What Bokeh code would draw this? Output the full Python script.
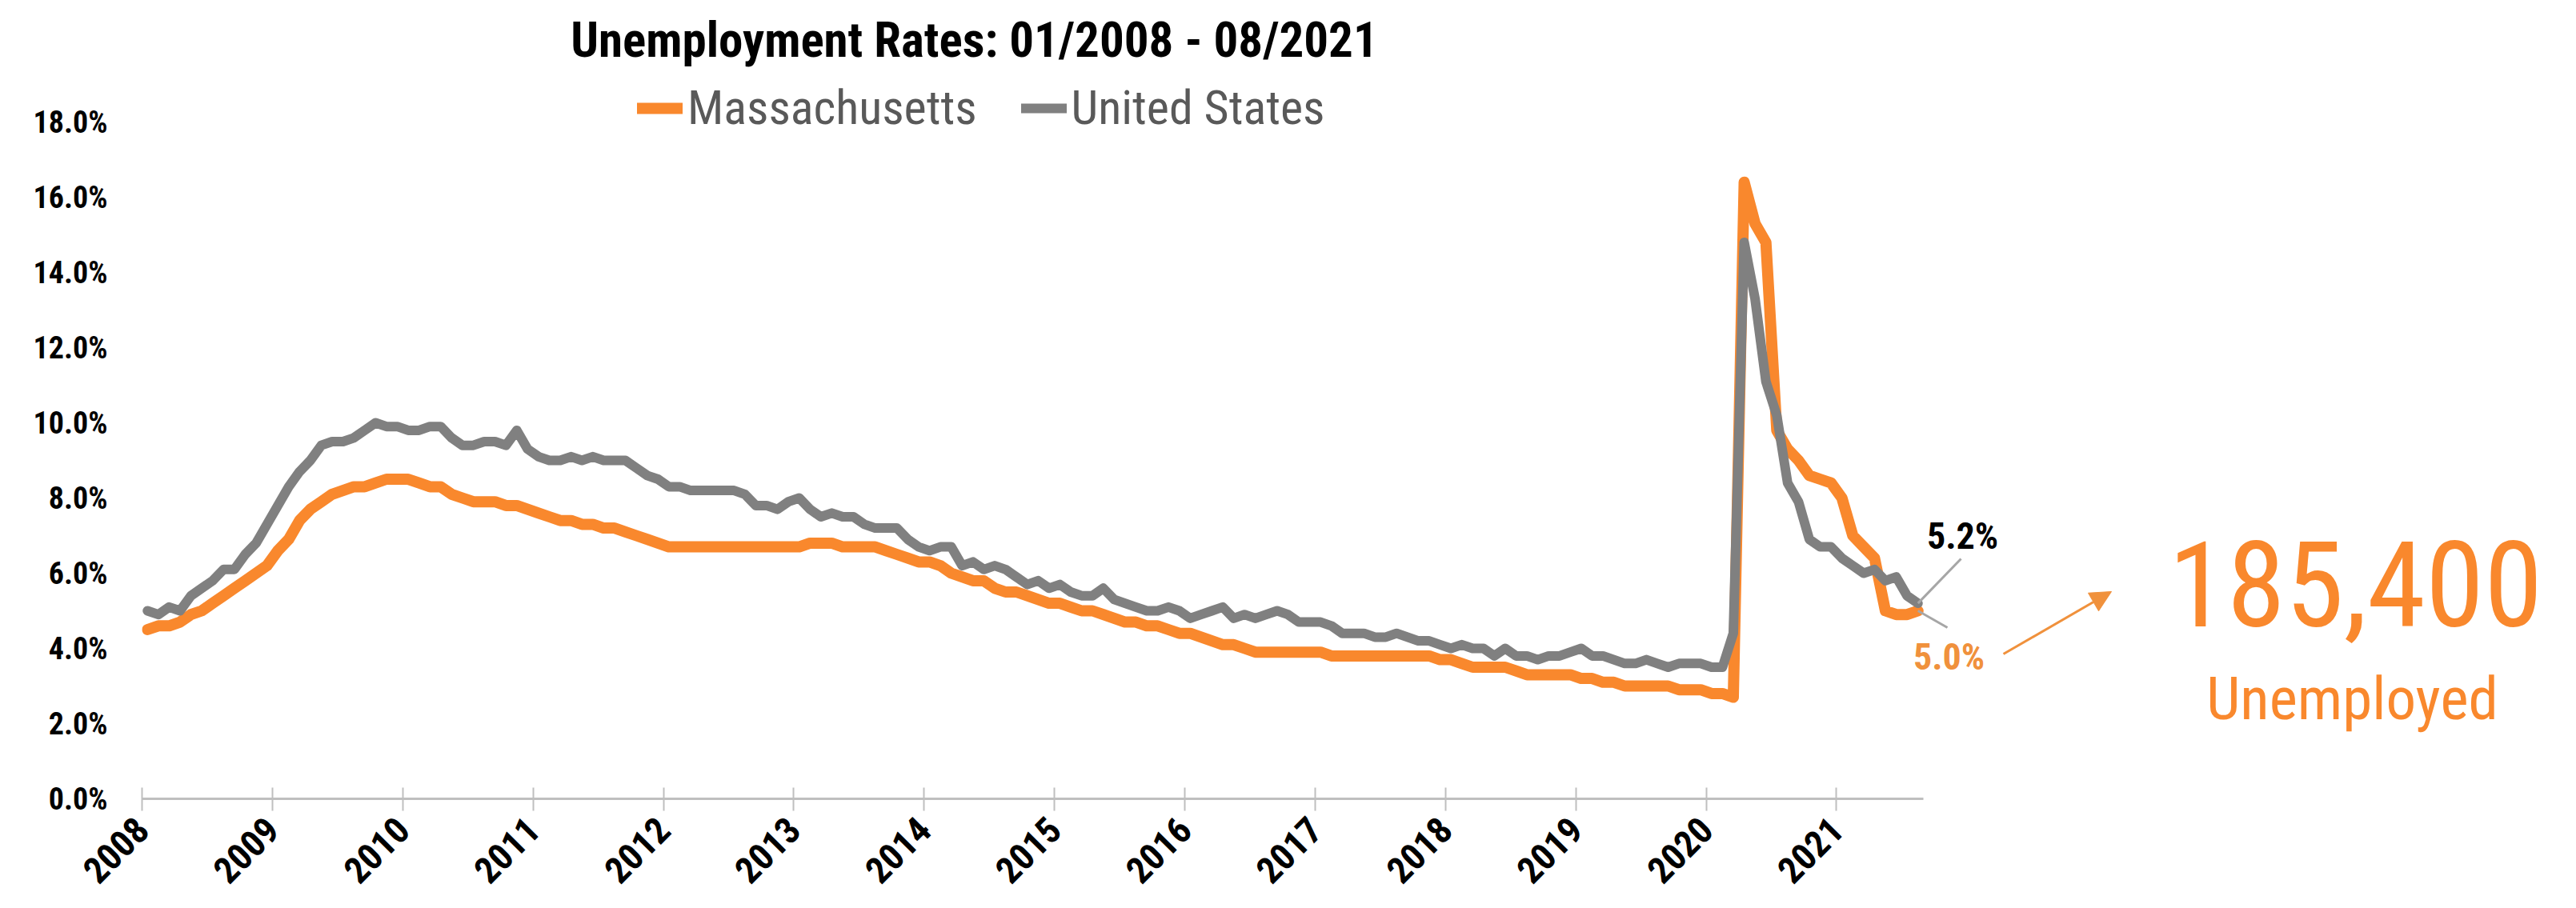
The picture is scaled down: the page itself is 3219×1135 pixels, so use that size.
import math
from bokeh.plotting import figure
from bokeh.models import (FixedTicker, PrintfTickFormatter, Legend, LegendItem,
                          Arrow, NormalHead, Range1d)
from bokeh.core.properties import value
from bokeh.embed import file_html
from bokeh.resources import INLINE

# ---------------- data ----------------
start_year = 2008
tick_years = list(range(2008, 2022))
tick_labels = [str(y) for y in tick_years]
y_ticks = [0, 2, 4, 6, 8, 10, 12, 14, 16, 18]

series_names = ["Massachusetts", "United States"]

# Monthly unemployment rate (%), 01/2008 - 08/2021
ma_rate = [
    4.5, 4.6, 4.6, 4.7, 4.9, 5.0, 5.2, 5.4, 5.6, 5.8, 6.0, 6.2,   # 2008
    6.6, 6.9, 7.4, 7.7, 7.9, 8.1, 8.2, 8.3, 8.3, 8.4, 8.5, 8.5,   # 2009
    8.5, 8.4, 8.3, 8.3, 8.1, 8.0, 7.9, 7.9, 7.9, 7.8, 7.8, 7.7,   # 2010
    7.6, 7.5, 7.4, 7.4, 7.3, 7.3, 7.2, 7.2, 7.1, 7.0, 6.9, 6.8,   # 2011
    6.7, 6.7, 6.7, 6.7, 6.7, 6.7, 6.7, 6.7, 6.7, 6.7, 6.7, 6.7,   # 2012
    6.7, 6.8, 6.8, 6.8, 6.7, 6.7, 6.7, 6.7, 6.6, 6.5, 6.4, 6.3,   # 2013
    6.3, 6.2, 6.0, 5.9, 5.8, 5.8, 5.6, 5.5, 5.5, 5.4, 5.3, 5.2,   # 2014
    5.2, 5.1, 5.0, 5.0, 4.9, 4.8, 4.7, 4.7, 4.6, 4.6, 4.5, 4.4,   # 2015
    4.4, 4.3, 4.2, 4.1, 4.1, 4.0, 3.9, 3.9, 3.9, 3.9, 3.9, 3.9,   # 2016
    3.9, 3.8, 3.8, 3.8, 3.8, 3.8, 3.8, 3.8, 3.8, 3.8, 3.8, 3.7,   # 2017
    3.7, 3.6, 3.5, 3.5, 3.5, 3.5, 3.4, 3.3, 3.3, 3.3, 3.3, 3.3,   # 2018
    3.2, 3.2, 3.1, 3.1, 3.0, 3.0, 3.0, 3.0, 3.0, 2.9, 2.9, 2.9,   # 2019
    2.8, 2.8, 2.7, 16.4, 15.3, 14.8, 9.8, 9.3, 9.0, 8.6, 8.5, 8.4,  # 2020
    8.0, 7.0, 6.7, 6.4, 5.0, 4.9, 4.9, 5.0,                       # 2021
]
us_rate = [
    5.0, 4.9, 5.1, 5.0, 5.4, 5.6, 5.8, 6.1, 6.1, 6.5, 6.8, 7.3,   # 2008
    7.8, 8.3, 8.7, 9.0, 9.4, 9.5, 9.5, 9.6, 9.8, 10.0, 9.9, 9.9,  # 2009
    9.8, 9.8, 9.9, 9.9, 9.6, 9.4, 9.4, 9.5, 9.5, 9.4, 9.8, 9.3,   # 2010
    9.1, 9.0, 9.0, 9.1, 9.0, 9.1, 9.0, 9.0, 9.0, 8.8, 8.6, 8.5,   # 2011
    8.3, 8.3, 8.2, 8.2, 8.2, 8.2, 8.2, 8.1, 7.8, 7.8, 7.7, 7.9,   # 2012
    8.0, 7.7, 7.5, 7.6, 7.5, 7.5, 7.3, 7.2, 7.2, 7.2, 6.9, 6.7,   # 2013
    6.6, 6.7, 6.7, 6.2, 6.3, 6.1, 6.2, 6.1, 5.9, 5.7, 5.8, 5.6,   # 2014
    5.7, 5.5, 5.4, 5.4, 5.6, 5.3, 5.2, 5.1, 5.0, 5.0, 5.1, 5.0,   # 2015
    4.8, 4.9, 5.0, 5.1, 4.8, 4.9, 4.8, 4.9, 5.0, 4.9, 4.7, 4.7,   # 2016
    4.7, 4.6, 4.4, 4.4, 4.4, 4.3, 4.3, 4.4, 4.3, 4.2, 4.2, 4.1,   # 2017
    4.0, 4.1, 4.0, 4.0, 3.8, 4.0, 3.8, 3.8, 3.7, 3.8, 3.8, 3.9,   # 2018
    4.0, 3.8, 3.8, 3.7, 3.6, 3.6, 3.7, 3.6, 3.5, 3.6, 3.6, 3.6,   # 2019
    3.5, 3.5, 4.4, 14.8, 13.3, 11.1, 10.2, 8.4, 7.9, 6.9, 6.7, 6.7,  # 2020
    6.4, 6.2, 6.0, 6.1, 5.8, 5.9, 5.4, 5.2,                        # 2021
]

headline_value = "185,400"
headline_caption = "Unemployed"
title_text = "Unemployment Rates: 01/2008 - 08/2021"

# x positions: middle of each month, in fractional years
x_vals = [start_year + (i + 0.5) / 12.0 for i in range(len(ma_rate))]
axis_end = 2021 + 8 / 12.0

# ---------------- layout ----------------
ORANGE = "#F9882D"
GRAY = "#808080"
LABEL_ORANGE = "#F0913C"
FONT = "Roboto Condensed"

left_b = 177
frame_w = 3200 - left_b
frame_h = 998
ppy = (2403 - left_b) / (axis_end - start_year)     # px per year
ppu = 47.0                                         # px per percentage point
x_end = start_year + frame_w / ppy
y_end = frame_h / ppu

def dx(ref_x):  # reference picture pixel -> data x
    return start_year + (ref_x - 8 - left_b) / ppy

def dy(ref_y):
    return (frame_h - (ref_y - 8)) / ppu

p = figure(frame_width=frame_w, frame_height=frame_h,
           output_backend="svg", toolbar_location=None,
           x_range=Range1d(start_year, x_end), y_range=Range1d(0, y_end),
           min_border_left=left_b, min_border_right=0, min_border_top=0,
           min_border_bottom=0, title=None)
p.outline_line_color = None
p.grid.visible = False
p.background_fill_color = "white"
p.border_fill_color = "white"

# axes
xa = p.xaxis[0]
xa.ticker = FixedTicker(ticks=tick_years)
xa.major_label_overrides = {y: s for y, s in zip(tick_years, tick_labels)}
xa.bounds = (start_year, axis_end)
xa.axis_line_color = "#BFBFBF"
xa.axis_line_width = 3
xa.major_tick_line_color = "#BFBFBF"
xa.major_tick_line_width = 2
xa.major_tick_in = 14
xa.major_tick_out = 15
xa.minor_tick_line_color = None
xa.major_label_orientation = math.pi / 4
xa.major_label_text_font = FONT
xa.major_label_text_font_style = "bold"
xa.major_label_text_font_size = "46px"
xa.major_label_text_color = "black"
xa.major_label_standoff = 16

ya = p.yaxis[0]
ya.ticker = FixedTicker(ticks=y_ticks)
ya.formatter = PrintfTickFormatter(format="%.1f%%")
ya.axis_line_color = None
ya.major_tick_line_color = None
ya.minor_tick_line_color = None
ya.major_label_text_font = FONT
ya.major_label_text_font_style = "bold"
ya.major_label_text_font_size = "38px"
ya.major_label_text_color = "black"
ya.major_label_standoff = 37

# lines
r_ma = p.line(x_vals, ma_rate, line_color=ORANGE, line_width=14,
              line_join="round", line_cap="round")
r_us = p.line(x_vals, us_rate, line_color=GRAY, line_width=12,
              line_join="round", line_cap="round")

# legend
legend = Legend(items=[LegendItem(label=series_names[0], renderers=[r_ma]),
                       LegendItem(label=series_names[1], renderers=[r_us])],
                orientation="horizontal", location=(619, 828),
                glyph_width=57, glyph_height=40, label_standoff=6, spacing=55,
                padding=0, margin=0, border_line_color=None,
                background_fill_alpha=0,
                label_text_font=FONT, label_text_font_size="60px",
                label_text_color="#595959")
p.add_layout(legend, "center")

# title
p.text([dx(1225)], [dy(61 - 4)], text=[title_text], text_font=value(FONT),
       text_font_style="bold", text_font_size="61px", text_color="black",
       text_align="center", text_baseline="alphabetic")

# end-point leader lines & labels
p.segment([x_vals[-1]], [us_rate[-1]], [dx(2458)], [dy(706)],
          line_color="#A6A6A6", line_width=3)
p.segment([x_vals[-1]], [ma_rate[-1]], [dx(2441)], [dy(792)],
          line_color="#A6A6A6", line_width=3)
p.text([dx(2460)], [dy(689 - 12)], text=["%.1f%%" % us_rate[-1]], text_font=value(FONT),
       text_font_style="bold", text_font_size="46px", text_color="black",
       text_align="center", text_baseline="alphabetic")
p.text([dx(2443)], [dy(840 - 12)], text=["%.1f%%" % ma_rate[-1]], text_font=value(FONT),
       text_font_style="bold", text_font_size="46px", text_color=LABEL_ORANGE,
       text_align="center", text_baseline="alphabetic")

# arrow & headline
p.add_layout(Arrow(end=NormalHead(size=26, fill_color=LABEL_ORANGE, line_color=LABEL_ORANGE),
                   x_start=dx(2511), y_start=dy(825), x_end=dx(2646), y_end=dy(747),
                   line_color=LABEL_ORANGE, line_width=3))
p.text([dx(2951)], [dy(780 - 43)], text=[headline_value], text_font=value(FONT),
       text_font_size="148px", text_color=ORANGE,
       text_align="center", text_baseline="alphabetic")
p.text([dx(2947)], [dy(904 - 24)], text=[headline_caption], text_font=value(FONT),
       text_font_size="75px", text_color=ORANGE,
       text_align="center", text_baseline="alphabetic")

open("out.html", "w").write(file_html(p, INLINE))
